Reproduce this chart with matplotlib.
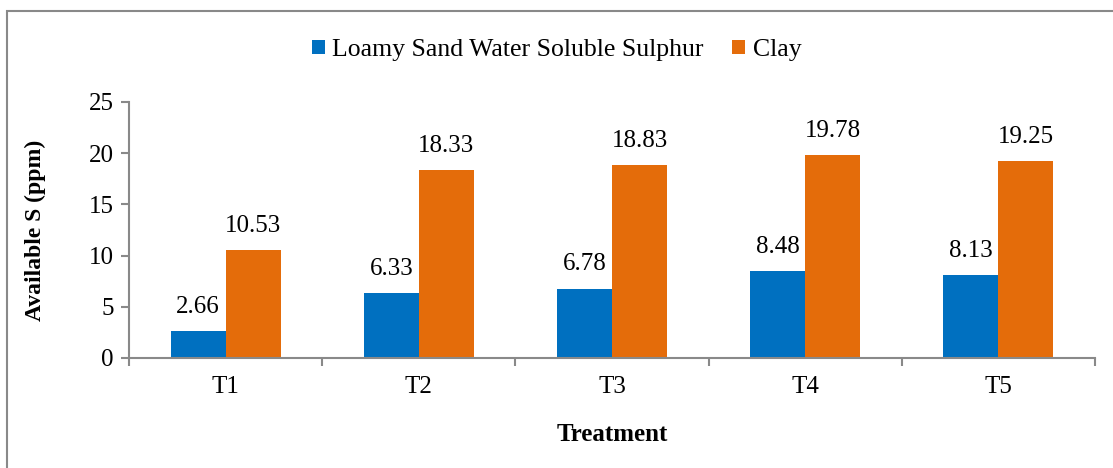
import numpy as np
import matplotlib.pyplot as plt
from matplotlib.patches import Rectangle

treatments = ['T1', 'T2', 'T3', 'T4', 'T5']
loamy_sand = [2.66, 6.33, 6.78, 8.48, 8.13]
clay = [10.53, 18.33, 18.83, 19.78, 19.25]


def main():
    plt.rcParams['font.family'] = ['Liberation Serif', 'DejaVu Serif']
    fig = plt.figure(figsize=(11.13, 4.68), dpi=100)
    ax = fig.add_axes([129 / 1113, 1 - 358 / 468, (1095 - 129) / 1113, (358 - 102) / 468])

    x = np.arange(len(treatments))
    w = 0.285
    b1 = ax.bar(x - w / 2, loamy_sand, w, color='#0070C0', label='Loamy Sand Water Soluble Sulphur')
    b2 = ax.bar(x + w / 2, clay, w, color='#E46C0A', label='Clay')
    ax.bar_label(b1, labels=[f'{v:.2f}' for v in loamy_sand], padding=9.5, fontsize=18)
    ax.bar_label(b2, labels=[f'{v:.2f}' for v in clay], padding=9.5, fontsize=18)

    ax.set_xlim(-0.5, len(treatments) - 0.5)
    ax.set_ylim(0, 25)
    ax.set_yticks(range(0, 26, 5))
    ax.set_xticks(x)
    ax.set_xticklabels(treatments)
    ax.set_xticks(np.arange(-0.5, len(treatments), 1), minor=True)
    ax.tick_params(axis='x', which='major', length=0, pad=13, labelsize=18)
    ax.tick_params(axis='x', which='minor', length=6, color='#898989', width=1.5)
    ax.tick_params(axis='y', length=6, color='#898989', width=1.5, labelsize=18, pad=5)

    for s in ['top', 'right']:
        ax.spines[s].set_visible(False)
    for s in ['left', 'bottom']:
        ax.spines[s].set_color('#898989')
        ax.spines[s].set_linewidth(1.5)

    ax.set_ylabel('Available S (ppm)', fontsize=17, fontweight='bold', labelpad=31)
    ax.set_xlabel('Treatment', fontsize=18, fontweight='bold', labelpad=18)

    fig.legend(loc='center', bbox_to_anchor=(0.5, 1 - 50 / 468), ncol=2, frameon=False,
               fontsize=18.5, handlelength=0.5, handleheight=0.5, handletextpad=0.3,
               columnspacing=1.1)

    fig.patches.append(Rectangle((7 / 1113, -0.2), 1.2, 1.2 - 11 / 468, transform=fig.transFigure,
                                 fill=False, edgecolor='#898989', linewidth=1.5))

    fig.savefig('out.png', dpi=100)


if __name__ == "__main__":
    main()
